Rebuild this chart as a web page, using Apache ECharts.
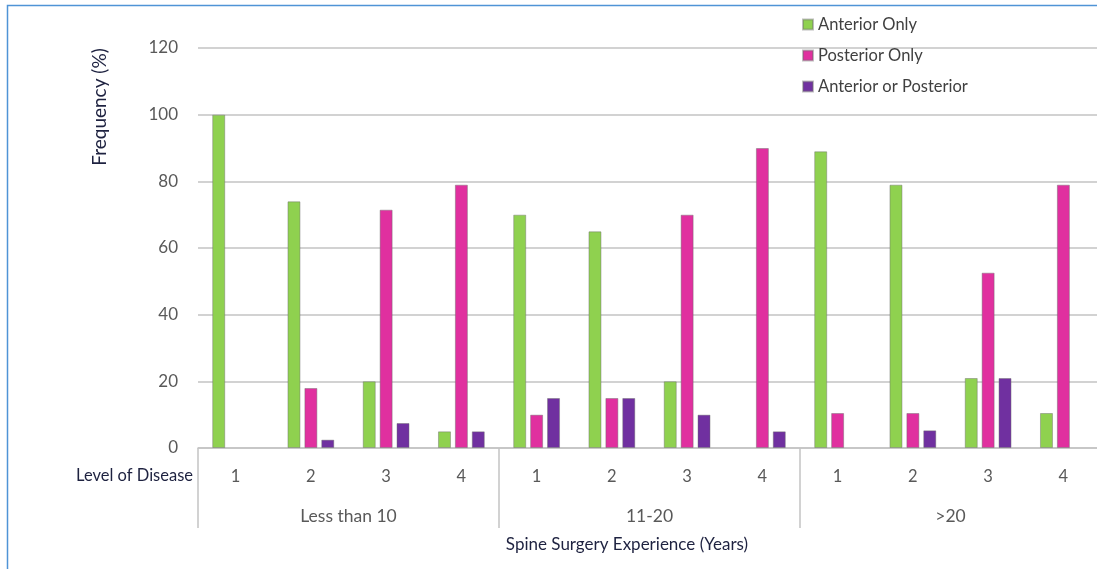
<!DOCTYPE html>
<html>
<head>
<meta charset="utf-8">
<title>Frequency by Level of Disease and Spine Surgery Experience</title>
<script src="https://cdn.jsdelivr.net/npm/echarts@6/dist/echarts.min.js"></script>
<style>
  html, body { margin: 0; padding: 0; background: #ffffff; }
  #chart { width: 1097px; height: 569px; }
</style>
</head>
<body>
<div id="chart"></div>
<script>
// Experience groups (outer category level) and disease levels (inner level)
const groups = ['Less than 10', '11-20', '>20'];
const levels = ['1', '2', '3', '4'];
const yTicks = { min: 0, max: 120, interval: 20 };

// Frequency (%) per level, group by group
const anteriorOnly = [100, 74, 20, 5, 70, 65, 20, 0, 89, 79, 21, 10.5];
const posteriorOnly = [0, 18, 71.5, 79, 10, 15, 70, 90, 10.5, 10.5, 52.6, 79];
const anteriorOrPosterior = [0, 2.5, 7.5, 5, 15, 15, 10, 5, 0, 5.3, 21, 0];

const innerCategories = [];
groups.forEach(() => levels.forEach(l => innerCategories.push(l)));

// A zero frequency leaves an empty slot rather than a flat outlined bar
const asBars = (arr) => arr.map(v => (v === 0 ? null : v));

const FONT = 'Lato, "Noto Sans", sans-serif';
const GRID_COLOR = '#c3c3c3';
const LABEL_COLOR = '#595959';
const TITLE_COLOR = '#1e2240';

const chart = echarts.init(document.getElementById('chart'), null, { renderer: 'canvas' });

const barStyle = (color) => ({
  color: color,
  borderColor: 'rgba(110,110,110,0.45)',
  borderWidth: 1
});

chart.setOption({
  animation: false,
  backgroundColor: '#ffffff',
  textStyle: { fontFamily: FONT },
  // the plot runs slightly past the right edge of the canvas
  grid: {
    left: 198, width: 903, top: 48, bottom: 121,
    containLabel: false,
    outerBoundsMode: 'none'
  },
  legend: {
    orient: 'vertical',
    left: 802,
    top: 16,
    padding: 0,
    itemWidth: 10,
    itemHeight: 10,
    itemGap: 14,
    itemTextGap: 5,
    icon: 'rect',
    textStyle: { fontFamily: FONT, fontSize: 16.5, color: '#404040' },
    data: ['Anterior Only', 'Posterior Only', 'Anterior or Posterior']
  },
  xAxis: [
    {
      type: 'category',
      position: 'bottom',
      data: innerCategories,
      axisLine: { show: true, lineStyle: { color: GRID_COLOR, width: 1.5 } },
      axisTick: { show: false },
      axisLabel: { color: LABEL_COLOR, fontSize: 16.5, margin: 20, interval: 0, fontFamily: FONT },
      splitLine: { show: false }
    },
    {
      type: 'category',
      position: 'bottom',
      data: groups,
      axisLine: { show: false },
      axisTick: { show: true, length: 80, lineStyle: { color: GRID_COLOR, width: 1.5 } },
      axisLabel: { color: LABEL_COLOR, fontSize: 17.5, margin: 59, interval: 0, fontFamily: FONT },
      splitLine: { show: false }
    }
  ],
  yAxis: {
    type: 'value',
    min: yTicks.min,
    max: yTicks.max,
    interval: yTicks.interval,
    axisLine: { show: false },
    axisTick: { show: false },
    axisLabel: { color: LABEL_COLOR, fontSize: 17, margin: 20, fontFamily: FONT },
    splitLine: { show: true, lineStyle: { color: GRID_COLOR, width: 1.5 } }
  },
  series: [
    {
      name: 'Anterior Only',
      type: 'bar',
      xAxisIndex: 0,
      data: asBars(anteriorOnly),
      barWidth: 13,
      barGap: '30%',
      itemStyle: barStyle('#8fd14f')
    },
    {
      name: 'Posterior Only',
      type: 'bar',
      xAxisIndex: 0,
      data: asBars(posteriorOnly),
      barWidth: 13,
      barGap: '30%',
      itemStyle: barStyle('#e0309f')
    },
    {
      name: 'Anterior or Posterior',
      type: 'bar',
      xAxisIndex: 0,
      data: asBars(anteriorOrPosterior),
      barWidth: 13,
      barGap: '30%',
      itemStyle: barStyle('#7030a0')
    }
  ],
  graphic: [
    {
      type: 'polyline',
      silent: true,
      shape: { points: [[7.5, 569], [7.5, 5.5], [1097, 5.5]] },
      style: { stroke: '#4f94d6', lineWidth: 1.5, fill: null }
    },
    {
      type: 'text',
      x: 100,
      y: 107,
      rotation: Math.PI / 2,
      style: {
        text: 'Frequency (%)',
        fontFamily: FONT,
        fontSize: 19,
        fill: TITLE_COLOR,
        align: 'center',
        verticalAlign: 'middle'
      }
    },
    {
      type: 'text',
      x: 193,
      y: 476,
      style: {
        text: 'Level of Disease',
        fontFamily: FONT,
        fontSize: 16.5,
        fill: TITLE_COLOR,
        align: 'right',
        verticalAlign: 'middle'
      }
    },
    {
      type: 'text',
      x: 627,
      y: 545,
      style: {
        text: 'Spine Surgery Experience (Years)',
        fontFamily: FONT,
        fontSize: 17,
        fill: TITLE_COLOR,
        align: 'center',
        verticalAlign: 'middle'
      }
    }
  ]
});
</script>
</body>
</html>
